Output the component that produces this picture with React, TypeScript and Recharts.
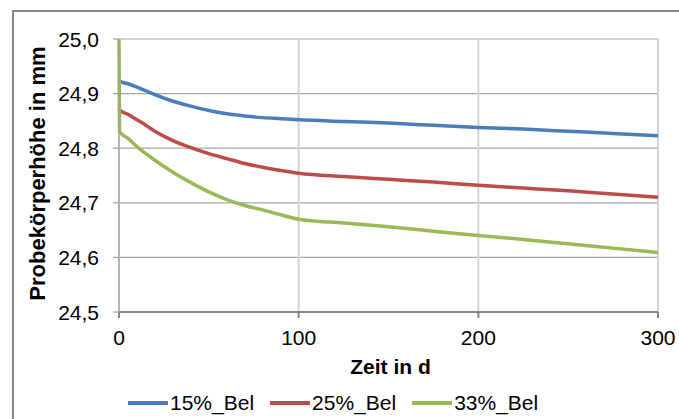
import React from 'react'
import { LineChart, Line, XAxis, YAxis, CartesianGrid } from 'recharts'

// Zeit in Tagen
const DAYS = [0, 0.3, 5, 10, 15, 20, 30, 40, 50, 60, 70, 80, 90, 100, 125, 150, 175, 200, 225, 250, 275, 300]

// Probekörperhöhe in mm
const BEL_15 = [24.925, 24.923, 24.918, 24.912, 24.905, 24.898, 24.886, 24.877, 24.869, 24.863, 24.859, 24.856, 24.854, 24.852, 24.849, 24.846, 24.842, 24.838, 24.835, 24.831, 24.827, 24.823]
const BEL_25 = [24.873, 24.87, 24.862, 24.852, 24.842, 24.831, 24.814, 24.801, 24.79, 24.781, 24.772, 24.765, 24.759, 24.754, 24.748, 24.743, 24.738, 24.732, 24.727, 24.722, 24.716, 24.71]
const BEL_33 = [25.0, 24.83, 24.818, 24.803, 24.79, 24.778, 24.756, 24.737, 24.72, 24.706, 24.695, 24.687, 24.678, 24.67, 24.663, 24.656, 24.648, 24.64, 24.633, 24.625, 24.617, 24.609]

const X_TICKS = [0, 100, 200, 300]
const Y_TICKS = [24.5, 24.6, 24.7, 24.8, 24.9, 25.0]

const SERIES = [
  { key: 'b15', name: '15%_Bel', color: '#4a7ebb' },
  { key: 'b25', name: '25%_Bel', color: '#be4b48' },
  { key: 'b33', name: '33%_Bel', color: '#98b954' },
]

const FONT = '"Liberation Sans", Arial, sans-serif'

const data = DAYS.map((d, i) => ({ tag: d, b15: BEL_15[i], b25: BEL_25[i], b33: BEL_33[i] }))

const fmt = (v: number) => v.toFixed(1).replace('.', ',')

function XTick({ x, y, payload }: any) {
  return (
    <text x={x} y={y} textAnchor="middle" dominantBaseline="central" fontSize={21} fontFamily={FONT} fill="#000">
      {payload.value}
    </text>
  )
}

function YTick({ x, y, payload }: any) {
  return (
    <text x={x} y={y} textAnchor="end" dominantBaseline="central" fontSize={21} fontFamily={FONT} fill="#000">
      {fmt(payload.value)}
    </text>
  )
}

export default function App() {
  return (
    <div style={{ position: 'absolute', left: 0, top: 0, width: 679, height: 419, background: '#fff', overflow: 'hidden' }}>
      {/* Rahmen des Diagrammbereichs, rechts/unten abgeschnitten */}
      <div
        style={{
          position: 'absolute',
          left: 12,
          top: 10,
          width: 700,
          height: 440,
          border: '2px solid #898989',
          boxSizing: 'border-box',
        }}
      />
      <LineChart
        width={679}
        height={419}
        data={data}
        margin={{ top: 39, right: 21, bottom: 0, left: 0 }}
        style={{ position: 'absolute', left: 0, top: 0 }}
      >
        <CartesianGrid vertical={false} stroke="#a6a6a6" strokeWidth={1.2} />
        <CartesianGrid horizontal={false} stroke="#d4d4d4" strokeWidth={2} />
        <XAxis
          dataKey="tag"
          type="number"
          domain={[0, 300]}
          ticks={X_TICKS}
          height={107}
          tickSize={6}
          tickMargin={19}
          stroke="#868686"
          strokeWidth={2}
          tick={<XTick />}
          label={(p: any) => (
            <text
              x={p.viewBox.x + p.viewBox.width / 2 + 2}
              y={366}
              textAnchor="middle"
              dominantBaseline="central"
              fontSize={21}
              fontWeight="bold"
              fontFamily={FONT}
              fill="#000"
            >
              Zeit in d
            </text>
          )}
        />
        <YAxis
          type="number"
          domain={[24.5, 25.0]}
          ticks={Y_TICKS}
          width={119}
          tickSize={6}
          tickMargin={14}
          stroke="#a0a0a0"
          strokeWidth={1.2}
          tick={<YTick />}
          allowDataOverflow
          label={(p: any) => (
            <text
              x={37}
              y={p.viewBox.y + p.viewBox.height / 2 - 2}
              transform={`rotate(-90 37 ${p.viewBox.y + p.viewBox.height / 2 - 2})`}
              textAnchor="middle"
              dominantBaseline="central"
              fontSize={22}
              fontWeight="bold"
              fontFamily={FONT}
              fill="#000"
            >
              Probekörperhöhe in mm
            </text>
          )}
        />
        {SERIES.map((s) => (
          <Line
            key={s.key}
            type="monotone"
            dataKey={s.key}
            name={s.name}
            stroke={s.color}
            strokeWidth={3.5}
            dot={false}
            isAnimationActive={false}
          />
        ))}
      </LineChart>
      {/* Legende */}
      <div
        style={{
          position: 'absolute',
          left: 128,
          top: 391,
          display: 'flex',
          alignItems: 'center',
          fontFamily: FONT,
          fontSize: 21,
          color: '#000',
        }}
      >
        {SERIES.map((s) => (
          <div key={s.key} style={{ display: 'flex', alignItems: 'center', marginRight: 16 }}>
            <span style={{ display: 'inline-block', width: 40, height: 4, background: s.color, marginRight: 2 }} />
            <span>{s.name}</span>
          </div>
        ))}
      </div>
    </div>
  )
}
